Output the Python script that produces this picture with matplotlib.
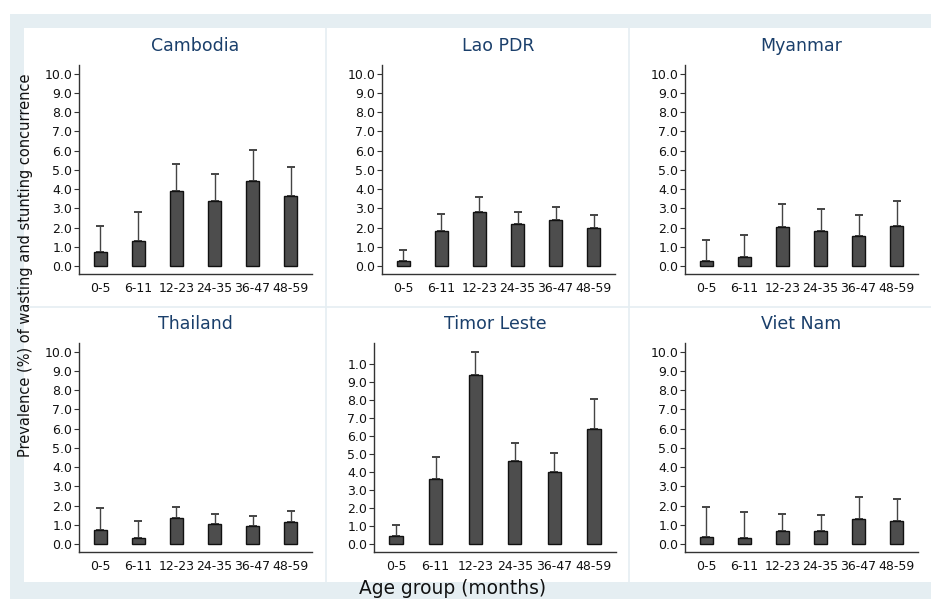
import numpy as np
import matplotlib
matplotlib.use("Agg")
import matplotlib.pyplot as plt
from matplotlib.patches import Rectangle
from matplotlib.lines import Line2D

# age groups (months)
age_groups = ["0-5", "6-11", "12-23", "24-35", "36-47", "48-59"]

countries = ["Cambodia", "Lao PDR", "Myanmar", "Thailand", "Timor Leste", "Viet Nam"]

# prevalence (%) and upper confidence limit
cambodia = [0.74, 1.30, 3.90, 3.37, 4.42, 3.64]
cambodia_hi = [2.07, 2.79, 5.32, 4.80, 6.05, 5.16]
lao = [0.29, 1.80, 2.81, 2.17, 2.41, 1.96]
lao_hi = [0.83, 2.72, 3.60, 2.83, 3.07, 2.65]
myanmar = [0.26, 0.47, 2.02, 1.82, 1.57, 2.11]
myanmar_hi = [1.38, 1.64, 3.22, 2.99, 2.65, 3.37]
thailand = [0.75, 0.33, 1.34, 1.06, 0.95, 1.15]
thailand_hi = [1.89, 1.20, 1.93, 1.56, 1.46, 1.70]
timor = [0.45, 3.60, 9.42, 4.64, 3.99, 6.40]
timor_hi = [1.08, 4.82, 10.67, 5.64, 5.06, 8.05]
vietnam = [0.37, 0.30, 0.68, 0.66, 1.32, 1.20]
vietnam_hi = [1.91, 1.67, 1.57, 1.53, 2.43, 2.35]

yticks = np.arange(0, 11, 1)
ytick_labels = ["%.1f" % v for v in yticks]
# the Timor Leste panel has its top label printed as "1.0" in the original
timor_ytick_labels = ytick_labels[:-1] + ["1.0"]

values = [cambodia, lao, myanmar, thailand, timor, vietnam]
uppers = [cambodia_hi, lao_hi, myanmar_hi, thailand_hi, timor_hi, vietnam_hi]

W, H = 931, 599
fig = plt.figure(figsize=(W / 100, H / 100), dpi=100)
fig.patch.set_facecolor("white")

BLUE = "#e5eef2"
NAVY = "#1a3f6b"

def px(x0, y_top, x1, y_bot):
    return [x0 / W, 1 - y_bot / H, (x1 - x0) / W, (y_bot - y_top) / H]

# outer frame and inner white region
fig.patches.append(Rectangle((10 / W, 0), 1, 1 - 14 / H, transform=fig.transFigure,
                             facecolor=BLUE, edgecolor="none", zorder=-10))
fig.patches.append(Rectangle((24 / W, 1 - 582 / H), 1, (582 - 28) / H, transform=fig.transFigure,
                             facecolor="white", edgecolor="none", zorder=-9))
for xs in [326, 629]:
    fig.lines.append(Line2D([xs / W, xs / W], [1 - 582 / H, 1 - 28 / H], transform=fig.transFigure,
                            color=BLUE, lw=1.2, zorder=-8))
fig.lines.append(Line2D([24 / W, 1], [1 - 307 / H, 1 - 307 / H], transform=fig.transFigure,
                        color=BLUE, lw=1.2, zorder=-8))

boxes = [
    px(79, 65, 312, 274), px(382, 65, 615, 274), px(685, 65, 918, 274),
    px(79, 343, 312, 552), px(374, 343, 616, 552), px(685, 343, 918, 552),
]

x = np.arange(len(age_groups))
for i, name in enumerate(countries):
    ax = fig.add_axes(boxes[i])
    ax.patch.set_alpha(0)
    v = np.array(values[i])
    hi = np.array(uppers[i])
    ax.errorbar(x, v, yerr=[np.zeros_like(v), hi - v], fmt="none", ecolor="#444444",
                elinewidth=1.0, capsize=3.2, capthick=1.4, zorder=1)
    ax.bar(x, v, width=0.34, color="#4d4d4d", edgecolor="#111111", linewidth=1.0, zorder=2)
    ax.set_xlim(-0.56, 5.56)
    if name == "Timor Leste":
        ax.set_ylim(-0.44, 11.17)
        ax.set_yticks(yticks, timor_ytick_labels)
    else:
        ax.set_ylim(-0.41, 10.45)
        ax.set_yticks(yticks, ytick_labels)
    ax.set_xticks(x, age_groups)
    for s in ["top", "right"]:
        ax.spines[s].set_visible(False)
    for s in ["left", "bottom"]:
        ax.spines[s].set_color("#333333")
        ax.spines[s].set_linewidth(1.0)
    ax.tick_params(axis="y", length=3.5, width=0.8, color="#333333", labelsize=9, pad=1.5,
                   labelcolor="#111111")
    ax.tick_params(axis="x", length=0, labelsize=9, pad=6, labelcolor="#111111")
    ax.set_title(name, fontsize=12.5, color=NAVY, pad=10)

fig.text(26 / W, 1 - 265 / H, "Prevalence (%) of wasting and stunting concurrence",
         rotation=90, ha="center", va="center", fontsize=10.5, color="#111111")
fig.text(453 / W, 1 - 588 / H, "Age group (months)", ha="center", va="center",
         fontsize=13.4, color="#111111")

fig.savefig("out.png", dpi=100)
